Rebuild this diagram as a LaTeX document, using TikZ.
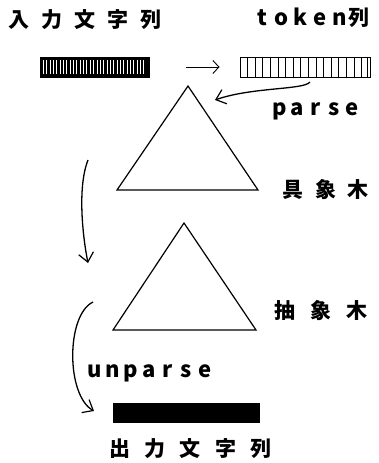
\documentclass[tikz,border=0pt]{standalone}
\usepackage{fontspec}
\newfontfamily\jpfont{Noto Sans CJK JP}
\usetikzlibrary{arrows.meta}
% fixed-width cell for widely spaced lettering
\newcommand\gcell[2]{\makebox[#1][c]{#2}}
\begin{document}
\begin{tikzpicture}[x=1pt,y=-1pt,
  jp/.style={font=\jpfont\bfseries\fontsize{21}{21}\selectfont, inner sep=0pt, anchor=west},
  lat/.style={font=\jpfont\bfseries\fontsize{22}{22}\selectfont, inner sep=0pt, anchor=base west},
  tri/.style={draw, line width=1.2pt},
  curvy/.style={line width=1.3pt, -{Straight Barb[length=9pt,width=15pt,line width=1.2pt]}},
  thinarrow/.style={line width=0.9pt, -{Straight Barb[length=6pt,width=13pt,line width=0.9pt]}},
  tokbar/.style={draw, line width=1pt, minimum width=130pt, minimum height=20pt, inner sep=0pt,
    path picture={\foreach \i in {1,...,16}{\draw[line width=0.8pt] ([xshift=\i*7.6pt]path picture bounding box.south west) -- ([xshift=\i*7.6pt]path picture bounding box.north west);}
      \draw[line width=0.8pt] ([xshift=-3pt]path picture bounding box.south east) -- ([xshift=-3pt]path picture bounding box.north east);}},
  inbar/.style={draw, fill=black, line width=1pt, minimum width=109pt, minimum height=20pt, inner sep=0pt,
    path picture={\foreach \i in {1,...,31}{\draw[white, line width=0.9pt] ([xshift=\i*3.35pt, yshift=3pt]path picture bounding box.south west) -- ([xshift=\i*3.35pt, yshift=-3pt]path picture bounding box.north west);}}},
  outbar/.style={fill=black, minimum width=147pt, minimum height=20pt, inner sep=0pt},
]
\useasboundingbox (0,0) rectangle (378,463);

% headings
\node[jp] (intext) at (2.5,20) {\gcell{33pt}{入}\gcell{33pt}{力}\gcell{33pt}{文}\gcell{33pt}{字}\gcell{33pt}{列}};
\node[lat] (toktext) at (252,25) {\gcell{19.5pt}{t}\gcell{19.5pt}{o}\gcell{19.5pt}{k}\gcell{19.5pt}{e}\gcell{19.5pt}{n}\gcell{19.5pt}{\fontsize{21}{21}\selectfont 列}};

% strings
\node[inbar] (inbar) at (94.5,67) {};
\node[tokbar] (tokbar) at (305,67) {};
\draw[thinarrow] ([xshift=36pt]inbar.east) -- ([xshift=-20pt]tokbar.west);

% concrete syntax tree
\coordinate (t1a) at (188,86);
\coordinate (t1l) at (117,190);
\coordinate (t1r) at (258,190);
\draw[tri] (t1a) -- (t1r) -- (t1l) -- cycle;
\node[jp] (cst) at (276.5,190) {\gcell{33pt}{具}\gcell{33pt}{象}\gcell{30pt}{木}};

% abstract syntax tree
\coordinate (t2a) at (184,223);
\coordinate (t2l) at (113,330);
\coordinate (t2r) at (256,330);
\draw[tri] (t2a) -- (t2r) -- (t2l) -- cycle;
\node[jp] (ast) at (267,311) {\gcell{36pt}{抽}\gcell{36pt}{象}\gcell{36pt}{木}};

% parse
\coordinate (p0) at (310,82);
\coordinate (p1) at (215,100);
\draw[curvy] (p0) .. controls (304,90) and (252,87) .. (p1);
\node[lat] (parse) at (270,115) {\gcell{18.3pt}{p}\gcell{18.3pt}{a}\gcell{18.3pt}{r}\gcell{18.3pt}{s}\gcell{18.3pt}{e}};

% tree transformation
\coordinate (m0) at (88,160);
\coordinate (m1) at (88,263);
\draw[curvy] (m0) .. controls (77,188) and (83,238) .. (m1);

% unparse
\coordinate (u0) at (93,302);
\coordinate (u1) at (94,411);
\draw[curvy] (u0) .. controls (66,315) and (66,395) .. (u1);
\node[lat] (unparse) at (85,377) {\gcell{18.4pt}{u}\gcell{18.4pt}{n}\gcell{18.4pt}{p}\gcell{18.4pt}{a}\gcell{18.4pt}{r}\gcell{18.4pt}{s}\gcell{18.4pt}{e}};

% output string
\node[outbar] (outbar) at (186.5,413) {};
\node[jp] (outtext) at (101.8,449) {\gcell{35.4pt}{出}\gcell{35.4pt}{力}\gcell{35.4pt}{文}\gcell{35.4pt}{字}\gcell{35.4pt}{列}};
\end{tikzpicture}
\end{document}
